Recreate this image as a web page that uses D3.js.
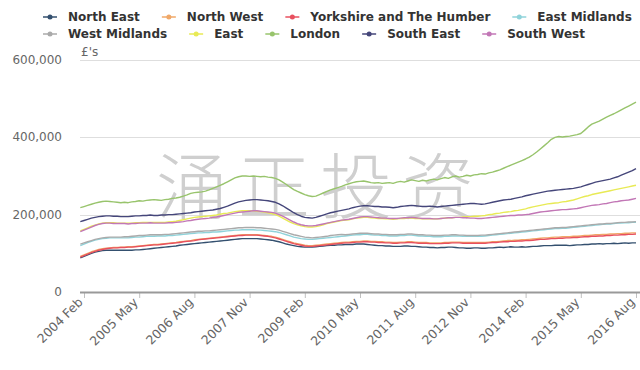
<!DOCTYPE html>
<html><head><meta charset="utf-8">
<script src="https://cdn.jsdelivr.net/npm/d3@7"></script>
<style>body{margin:0;background:#fff}svg{display:block}</style>
</head><body>
<svg id="c" width="640" height="370"></svg>
<script>
// ---- DATA (average price, £ thousands, monthly Jan 2004 .. Aug 2016) ----
const UNIT = 1000;
const startYear = 2004, startMonth = 0; // January 2004
const seriesNames = ["North East","North West","Yorkshire and The Humber","East Midlands","West Midlands","East","London","South East","South West"];
const seriesColors = ["#34506f","#f0a868","#e8505f","#8fd3da","#aaaaaa","#e8ea55","#98c46c","#45467a","#c277b6"];

const northEast = [
 88,92,96,100,103,105,107,108,108,108,108,108,
 108,108,108,109,109,110,111,112,113,114,115,116,
 117,118,119,121,122,123,124,125,126,127,128,129,
 130,131,132,133,134,135,136,137,138,138,138,138,
 138,137,136,135,134,132,130,127,124,122,120,118,
 117,116,116,116,117,118,119,120,121,121,122,122,
 123,123,123,124,124,124,123,122,121,120,120,119,
 119,118,118,118,119,119,118,118,117,116,116,115,
 115,114,115,115,116,116,115,114,114,113,113,114,
 114,113,113,114,114,115,116,115,116,117,116,116,
 117,116,117,118,118,119,120,120,120,121,121,121,
 121,120,121,122,122,123,123,124,124,125,124,125,
 125,126,125,126,127,126,127,127];
const northWest = [
 92,96,100,104,107,110,112,113,114,115,115,116,
 116,117,117,118,119,120,121,122,123,123,124,125,
 126,127,128,130,131,132,133,135,136,137,138,139,
 140,141,142,143,144,145,146,147,148,148,148,148,
 148,147,146,145,144,142,139,136,133,130,127,125,
 123,121,120,120,121,122,123,124,125,126,127,128,
 129,129,130,131,131,132,132,131,131,130,130,129,
 129,128,128,129,129,130,130,129,128,128,128,127,
 127,127,127,128,128,129,129,129,128,128,128,128,
 128,128,128,129,130,130,131,132,133,133,134,134,
 135,135,136,137,138,139,140,140,141,142,142,143,
 143,143,144,144,145,146,146,147,148,148,149,149,
 150,150,151,151,152,152,153,153];
const yorkshire = [
 90,94,98,102,105,108,110,112,113,114,114,115,
 115,116,116,117,118,119,120,121,122,122,123,124,
 125,126,127,128,130,131,132,133,135,136,137,138,
 139,140,141,142,143,144,145,146,146,147,147,147,
 147,146,145,144,142,140,137,134,131,128,125,123,
 121,119,118,118,119,120,121,122,123,124,125,126,
 127,127,128,129,129,130,130,129,129,128,128,127,
 127,126,126,127,127,128,128,127,126,126,126,125,
 125,125,125,126,126,127,127,127,126,126,126,126,
 126,126,126,127,128,128,129,130,130,131,131,132,
 132,133,133,134,135,136,136,137,138,138,139,139,
 140,140,141,141,142,143,143,144,144,145,145,146,
 146,147,147,148,148,149,149,150];
const eastMidlands = [
 120,124,128,131,134,136,138,139,140,140,140,140,
 140,140,141,142,142,143,144,144,144,145,145,145,
 146,146,147,148,149,150,151,152,153,153,154,154,
 155,155,156,157,158,159,160,160,161,161,161,161,
 160,160,159,158,157,156,154,151,148,145,142,140,
 138,137,136,136,137,138,139,140,141,142,143,144,
 145,146,147,148,148,149,149,148,147,147,146,146,
 145,145,145,146,146,147,147,146,145,145,144,144,
 143,143,143,144,144,145,145,145,144,144,144,144,
 144,144,145,146,147,148,149,150,151,152,153,154,
 155,156,157,158,159,160,161,162,163,164,164,165,
 165,166,167,168,169,170,171,172,173,174,175,176,
 176,177,178,178,179,179,180,180];
const westMidlands = [
 124,127,130,133,136,138,140,141,142,142,142,142,
 143,143,144,145,146,146,147,148,148,148,148,149,
 149,150,151,152,153,154,155,156,157,157,158,158,
 159,160,161,162,163,164,165,166,166,167,167,167,
 166,166,165,164,163,162,160,157,154,151,148,146,
 144,142,141,140,141,142,143,144,146,147,148,149,
 148,149,150,151,152,152,152,151,150,150,149,149,
 148,148,148,149,149,150,150,149,148,148,147,147,
 146,146,146,147,147,148,148,147,147,146,146,146,
 146,147,147,148,149,150,151,152,153,154,155,156,
 157,158,159,160,161,162,163,164,165,166,166,167,
 167,168,169,170,171,172,173,174,175,176,176,177,
 177,178,179,180,180,181,181,182];
const east = [
 158,162,166,170,173,176,178,179,179,179,178,178,
 178,178,178,179,179,180,180,180,180,180,180,180,
 181,182,183,185,187,189,191,193,194,195,196,197,
 198,199,201,203,204,206,208,209,210,210,210,210,
 209,208,207,205,203,200,196,191,186,181,177,174,
 171,169,168,168,169,171,174,177,179,181,183,185,
 186,187,189,191,192,193,193,192,191,190,190,189,
 189,188,189,190,190,191,191,190,190,189,189,189,
 189,189,190,191,192,192,193,193,194,195,195,196,
 196,197,198,200,201,203,204,206,207,208,210,211,
 213,215,218,220,222,224,226,228,229,230,231,233,
 234,236,238,241,244,247,249,252,254,256,258,260,
 262,264,266,268,270,272,274,276];
const london = [
 218,221,224,227,230,232,234,235,234,233,232,231,
 232,231,233,234,236,235,237,238,239,238,237,239,
 240,242,243,245,248,251,255,257,258,259,261,264,
 268,272,276,280,285,290,295,298,300,300,299,300,
 299,298,299,297,296,294,290,284,278,271,265,260,
 256,252,249,247,248,252,256,260,264,267,270,273,
 277,280,283,285,286,287,285,283,282,283,281,282,
 283,281,284,286,284,287,290,288,286,289,287,290,
 292,290,293,296,294,298,300,297,299,302,300,303,
 304,306,305,308,310,313,316,320,324,328,332,336,
 340,344,349,355,362,370,378,386,395,400,402,401,
 402,403,405,407,410,418,427,434,438,442,447,452,
 457,461,466,471,476,481,486,491];
const southEast = [
 182,185,188,191,193,195,196,197,197,196,196,195,
 195,195,196,197,197,198,198,199,198,198,199,199,
 200,200,201,202,203,204,205,207,208,209,210,211,
 212,214,216,219,222,226,230,233,235,237,238,239,
 239,238,237,236,234,232,228,223,217,211,205,200,
 196,193,192,191,193,196,199,202,205,207,209,211,
 213,215,218,220,222,223,223,222,221,221,220,220,
 219,218,219,221,222,223,224,223,222,221,221,222,
 221,220,221,222,223,224,225,226,227,228,229,229,
 228,227,228,230,232,234,236,238,239,240,242,244,
 246,249,251,253,255,257,259,261,262,263,264,265,
 266,267,268,270,272,275,278,281,284,286,288,290,
 292,295,298,302,306,310,314,319];
const southWest = [
 156,160,164,168,172,175,177,178,178,177,177,177,
 177,176,177,177,178,178,178,179,178,178,178,178,
 179,179,180,181,182,184,185,187,188,189,190,191,
 193,194,196,198,200,202,204,206,207,208,209,210,
 210,209,208,207,206,204,200,196,191,186,181,177,
 174,172,171,171,172,174,176,178,180,182,184,186,
 187,188,190,192,194,195,195,194,193,192,191,191,
 190,190,190,191,192,192,193,192,191,190,190,190,
 189,189,190,191,192,192,193,193,192,192,191,191,
 190,190,191,192,193,194,195,196,197,198,198,199,
 199,200,201,203,205,207,208,209,210,211,212,213,
 213,214,215,216,218,220,222,224,225,226,228,229,
 231,233,234,236,237,238,240,242];

const seriesValues = [northEast,northWest,yorkshire,eastMidlands,westMidlands,east,london,southEast,southWest];
const xTickLabels = ["2004 Feb","2005 May","2006 Aug","2007 Nov","2009 Feb","2010 May","2011 Aug","2012 Nov","2014 Feb","2015 May","2016 Aug"];
const yTicks = [0,200000,400000,600000];
const yUnitLabel = "£'s";
const watermark = "涌正投资";

// ---- month categories ----
const monthNames = ["Jan","Feb","Mar","Apr","May","Jun","Jul","Aug","Sep","Oct","Nov","Dec"];
const nMonths = london.length;
const monthLabels = d3.range(nMonths).map(i => {
  const m = startMonth + i;
  return (startYear + Math.floor(m/12)) + " " + monthNames[m%12];
});
const tickIdx = xTickLabels.map(l => monthLabels.indexOf(l));

// ---- layout ----
const svg = d3.select("#c");
const x = d3.scaleLinear().domain([1, nMonths-1]).range([84, 636]);
const y = d3.scaleLinear().domain([0, 600000]).range([292, 60]);
const plotLeft = 80, plotRight = 640;
const fontFam = "'DejaVu Sans', Verdana, sans-serif";

// gridlines
svg.append("g").selectAll("line").data(yTicks.filter(v=>v>0)).join("line")
  .attr("x1", plotLeft).attr("x2", plotRight)
  .attr("y1", d=>Math.round(y(d))+0.5).attr("y2", d=>Math.round(y(d))+0.5)
  .attr("stroke", "#dedede").attr("stroke-width", 1);

// watermark
svg.append("text").attr("x", 320).attr("y", 213)
  .attr("text-anchor","middle")
  .attr("font-family","'Noto Sans CJK SC', sans-serif")
  .attr("font-size", 72).attr("font-weight", 300)
  .attr("letter-spacing", 10)
  .attr("fill", "#cfcfcf")
  .text(watermark);

// y labels
svg.append("g").selectAll("text").data(yTicks).join("text")
  .attr("x", 62).attr("y", d=>y(d)+4)
  .attr("text-anchor","end")
  .attr("font-family", fontFam).attr("font-size", 12)
  .attr("fill", "#666")
  .text(d => d3.format(",")(d));

svg.append("text").attr("x", 81).attr("y", 56)
  .attr("font-family", fontFam).attr("font-size", 12).attr("fill","#666")
  .text(yUnitLabel);

// x axis
const xAxis = d3.axisBottom(x).tickValues(tickIdx)
  .tickFormat((d,i)=>xTickLabels[i]).tickSize(6).tickSizeOuter(0);
const gx = svg.append("g").attr("transform","translate(0,292)").call(xAxis);
gx.select(".domain").remove();
gx.selectAll(".tick line").attr("stroke","#c0c0c0");
gx.selectAll(".tick text")
  .attr("font-family", fontFam).attr("font-size", 12.5).attr("fill","#666")
  .attr("x", 0).attr("y", 0).attr("dy", 0)
  .attr("text-anchor","end")
  .attr("transform","translate(-1,11) rotate(-45)");
svg.append("line").attr("x1", plotLeft).attr("x2", plotRight)
  .attr("y1", 292.5).attr("y2", 292.5)
  .attr("stroke","#999").attr("stroke-width", 2);

// lines
const line = d3.line().x((d,i)=>x(i)).y(d=>y(d*UNIT)).curve(d3.curveLinear);
svg.append("g").selectAll("path").data(seriesValues).join("path")
  .attr("d", line).attr("fill","none")
  .attr("stroke", (d,i)=>seriesColors[i]).attr("stroke-width", 1.4)
  .attr("stroke-linejoin","round");

// legend
const rows = [[0,1,2,3],[4,5,6,7,8]];
const legendY = [21, 38];
const lg = svg.append("g");
rows.forEach((row, r) => {
  let cx = 43;
  row.forEach(k => {
    const g = lg.append("g").attr("transform", `translate(${cx},${legendY[r]})`);
    g.append("line").attr("x1",0).attr("x2",14).attr("y1",-4).attr("y2",-4)
      .attr("stroke", seriesColors[k]).attr("stroke-width", 1.5);
    g.append("circle").attr("cx",7).attr("cy",-4).attr("r",2.5).attr("fill", seriesColors[k]);
    const t = g.append("text").attr("x", 25).attr("y", 0)
      .attr("font-family", fontFam).attr("font-size", 12).attr("font-weight","bold")
      .attr("fill","#333").text(seriesNames[k]);
    cx += 25 + t.node().getComputedTextLength() + 22;
  });
});
</script>
</body></html>
